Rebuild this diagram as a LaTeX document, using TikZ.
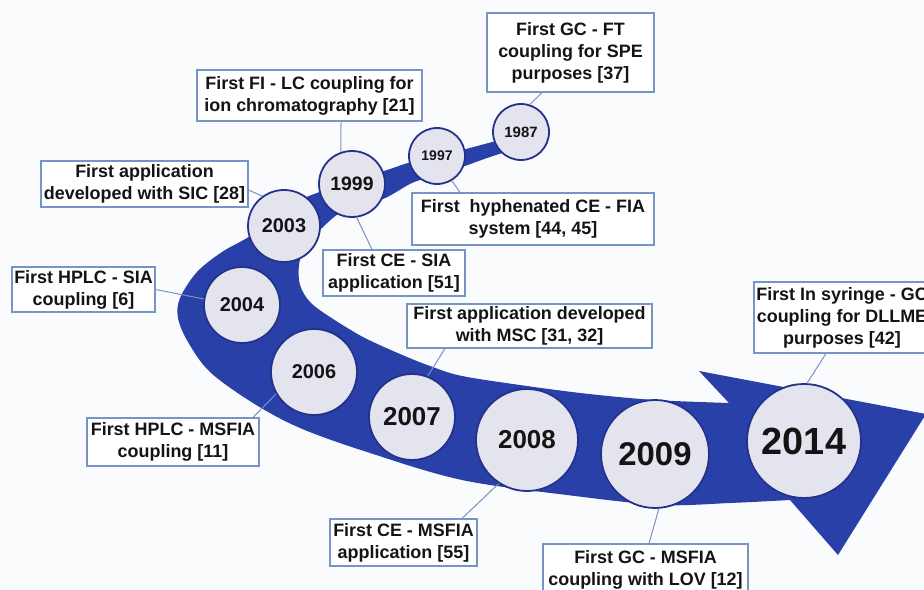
\documentclass[tikz,border=0pt]{standalone}
\usepackage{fontspec}
\setmainfont{Liberation Sans}
\definecolor{bgc}{RGB}{250,251,253}
\definecolor{bandc}{RGB}{40,64,168}
\definecolor{circf}{RGB}{228,228,238}
\definecolor{circb}{RGB}{36,50,138}
\definecolor{boxb}{RGB}{118,148,198}
\definecolor{txt}{RGB}{20,20,20}
\tikzset{
  yearc/.style={circle, draw=circb, line width=1.8bp, fill=circf, inner sep=0pt, text=txt},
  infobox/.style={draw=boxb, line width=1.1bp, fill=white, align=center, inner sep=0pt, text=txt,
    font=\fontsize{18}{22}\selectfont\bfseries},
  conn/.style={draw=boxb, line width=1bp},
}
\begin{document}
\begin{tikzpicture}[x=1bp,y=-1bp]
\useasboundingbox (0,0) rectangle (924,590);
\clip (0,0) rectangle (924,590);
\fill[bgc] (0,0) rectangle (924,590);

% band arrow
\fill[bandc] plot[smooth,tension=0.55] coordinates {(524,134) (500,140) (462,150) (437,156) (408,163) (387,170) (353,180) (325,190) (300,200) (275,215) (250,236) (222,252) (197,272) (180,298) (178,318) (188,342) (210,372) (253,403) (300,428) (367,452) (462,480) (575,496) (662,505) (730,503) (790,500)}
  -- (838,555) -- (926,414) -- (699,371)
  -- plot[smooth,tension=0.55] coordinates {(729,403) (655,400) (589,394) (527,386) (462,376) (430,366) (400,354) (363,337) (330,317) (310,302) (300,285) (299,265) (305,248) (322,228) (345,210) (383,199) (412,183) (437,175) (462,167) (490,157) (524,146)} -- cycle;

% boxes
\node[infobox, minimum width=167bp, minimum height=79bp] (b1) at (570.5,52.5) {First GC - FT\\coupling for SPE\\purposes [37]};
\node[infobox, minimum width=225bp, minimum height=51bp] (b2) at (309.5,95.5) {First FI - LC coupling for\\ion chromatography [21]};
\node[infobox, minimum width=207bp, minimum height=46bp] (b3) at (144.5,184) {First application\\developed with SIC [28]};
\node[infobox, minimum width=143bp, minimum height=45bp] (b4) at (83.5,289.5) {First HPLC - SIA\\coupling [6]};
\node[infobox, minimum width=142bp, minimum height=46bp] (b5) at (394,273) {First CE - SIA\\application [51]};
\node[infobox, minimum width=242bp, minimum height=52bp] (b6) at (533,219) {First\ \ hyphenated CE - FIA\\system [44, 45]};
\node[infobox, minimum width=245bp, minimum height=44bp] (b7) at (529.5,326) {First application developed\\with MSC [31, 32]};
\node[infobox, minimum width=172bp, minimum height=48bp] (b8) at (173,442) {First HPLC - MSFIA\\coupling [11]};
\node[infobox, minimum width=147bp, minimum height=47bp] (b9) at (403.5,542.5) {First CE - MSFIA\\application [55]};
\node[infobox, minimum width=205bp, minimum height=52bp] (b10) at (645.5,570) {First GC - MSFIA\\coupling with LOV [12]};
\node[infobox, minimum width=176bp, minimum height=71bp] (b11) at (842,317.5) {First In syringe - GC\\coupling for DLLME\\purposes [42]};

% circles
\node[yearc, minimum size=56bp, font=\fontsize{15}{15}\selectfont\bfseries] (c1987) at (521,132) {1987};
\node[yearc, minimum size=56bp, font=\fontsize{14}{14}\selectfont\bfseries] (c1997) at (437,156) {1997};
\node[yearc, minimum size=66bp, font=\fontsize{19.5}{19.5}\selectfont\bfseries] (c1999) at (352,184) {1999};
\node[yearc, minimum size=72bp, font=\fontsize{20}{20}\selectfont\bfseries] (c2003) at (284,226) {2003};
\node[yearc, minimum size=76bp, font=\fontsize{20}{20}\selectfont\bfseries] (c2004) at (242,305) {2004};
\node[yearc, minimum size=86bp, font=\fontsize{20}{20}\selectfont\bfseries] (c2006) at (314,372) {2006};
\node[yearc, minimum size=86bp, font=\fontsize{26}{26}\selectfont\bfseries] (c2007) at (412,417) {2007};
\node[yearc, minimum size=102bp, font=\fontsize{26}{26}\selectfont\bfseries] (c2008) at (527,440) {2008};
\node[yearc, minimum size=108bp, font=\fontsize{33}{33}\selectfont\bfseries] (c2009) at (655,454) {2009};
\node[yearc, minimum size=114bp, font=\fontsize{38}{38}\selectfont\bfseries] (c2014) at (804,441) {2014};

% connectors
\draw[conn] ([xshift=-28.5bp]b1.south) -- (c1987.72);
\draw[conn] ([xshift=31.5bp]b2.south) -- (c1999.109);
\draw[conn] ([yshift=-6bp]b3.east) -- (c2003.126);
\draw[conn] (b4.east) -- (c2004.171);
\draw[conn] ([xshift=-22bp]b5.north) -- (c1999.278);
\draw[conn] ([xshift=-73bp]b6.north) -- (c1997.301);
\draw[conn] ([xshift=-84.5bp]b7.south) -- (c2007.69);
\draw[conn] ([xshift=80bp]b8.north) -- (c2006.210);
\draw[conn] ([xshift=58.5bp]b9.north) -- (c2008.237);
\draw[conn] ([xshift=3.5bp]b10.north) -- (c2009.274);
\draw[conn] ([xshift=-16bp]b11.south) -- (c2014.87);
\end{tikzpicture}
\end{document}
